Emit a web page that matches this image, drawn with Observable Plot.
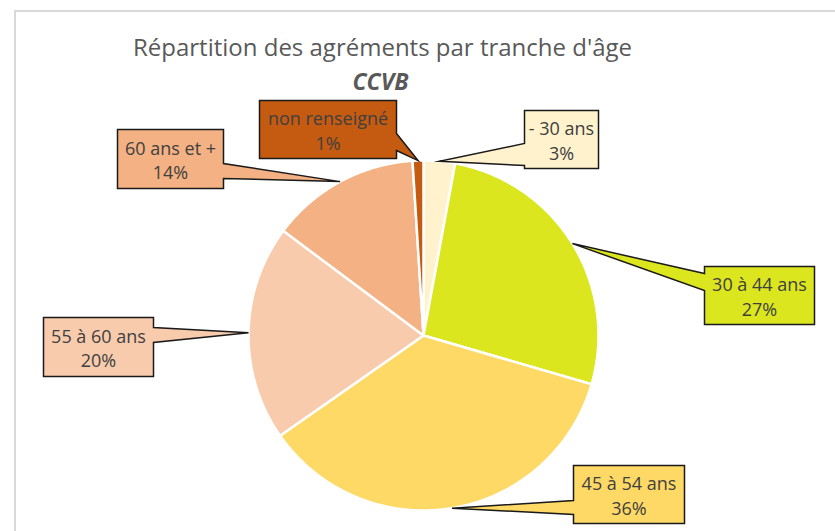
<!DOCTYPE html>
<html>
<head>
<meta charset="utf-8">
<script src="https://cdn.jsdelivr.net/npm/d3@7"></script>
<script src="https://cdn.jsdelivr.net/npm/@observablehq/plot@0.6"></script>
<style>
  html, body { margin: 0; padding: 0; background: #ffffff; width: 835px; height: 531px; overflow: hidden; }
  #frame { position: absolute; left: 14px; top: 10px; width: 2000px; height: 2000px;
           border-left: 2px solid #d9d9d9; border-top: 2px solid #d9d9d9; box-sizing: border-box; }
  .t { position: absolute; left: 0; text-align: center; font-family: "Open Sans", sans-serif; color: #595959; white-space: nowrap; }
  #title { top: 35px; width: 765px; font-size: 24px; line-height: 24px; }
  #subtitle { top: 70px; width: 761px; font-size: 23px; line-height: 23px; font-weight: bold; font-style: italic; }
  #chart { position: absolute; left: 0; top: 95px; }
</style>
</head>
<body>
<div id="frame"></div>
<div id="title" class="t">Répartition des agréments par tranche d'âge</div>
<div id="subtitle" class="t">CCVB</div>
<div id="chart"></div>
<script>
// ---- data ----
const categories = ["- 30 ans", "30 à 44 ans", "45 à 54 ans", "55 à 60 ans", "60 ans et +", "non renseigné"];
const shares = [2.9, 26.6, 35.8, 19.9, 13.8, 1.0];   // percent
const colors = ["#FFF2CC", "#DCE61F", "#FFD966", "#F8CBAD", "#F4B183", "#C55A11"];

// ---- layout (page pixels) ----
const W = 835, H = 436, TOP = 95;           // svg size and its top offset on the page
const CX = 423, CY = 335, R = 175;          // pie centre & radius on the page
// callout boxes (manually placed, as in the source chart) and the edge that carries the pointer
const labelBoxes = [
  {x0: 524, y0: 110, x1: 598, y1: 168, side: "left",  t0: 143, t1: 165},
  {x0: 704, y0: 266, x1: 814, y1: 324, side: "left",  t0: 273, t1: 290},
  {x0: 573, y0: 465, x1: 684, y1: 523, side: "left",  t0: 500, t1: 514},
  {x0: 43,  y0: 317, x1: 153, y1: 376, side: "right", t0: 327, t1: 342},
  {x0: 117, y0: 129, x1: 223, y1: 188, side: "right", t0: 163, t1: 178},
  {x0: 259, y0: 100, x1: 396, y1: 158, side: "right", t0: 133, t1: 150}
];

// page px -> pie units (radius = 1, y up)
const ux = px => (px - CX) / R;
const uy = py => (CY - py) / R;

// ---- pie geometry through d3.pie ----
const arcs = d3.pie().sort(null).startAngle(0).endAngle(2 * Math.PI)(shares);

const slicePts = [];
arcs.forEach((a, i) => {
  const name = categories[i];
  slicePts.push({name, x: 0, y: 0});
  const n = Math.max(4, Math.ceil((a.endAngle - a.startAngle) / 0.01));
  for (let k = 0; k <= n; k++) {
    const t = a.startAngle + (a.endAngle - a.startAngle) * k / n;
    slicePts.push({name, x: Math.sin(t), y: Math.cos(t)});
  }
});

// callout shapes: box + pointer to the slice's mid-angle on the rim
const calloutPts = [];
const labelData = [];
arcs.forEach((a, i) => {
  const name = categories[i];
  const b = labelBoxes[i];
  const mid = (a.startAngle + a.endAngle) / 2;
  const tip = [Math.sin(mid), Math.cos(mid)];
  const P = (px, py) => calloutPts.push({name, x: ux(px), y: uy(py)});
  const T = () => calloutPts.push({name, x: tip[0], y: tip[1]});
  P(b.x0, b.y0);
  if (b.side === "top") { P(b.t0, b.y0); T(); P(b.t1, b.y0); }
  P(b.x1, b.y0);
  if (b.side === "right") { P(b.x1, b.t0); T(); P(b.x1, b.t1); }
  P(b.x1, b.y1);
  if (b.side === "bottom") { P(b.t1, b.y1); T(); P(b.t0, b.y1); }
  P(b.x0, b.y1);
  if (b.side === "left") { P(b.x0, b.t1); T(); P(b.x0, b.t0); }
  labelData.push({
    name,
    x: ux((b.x0 + b.x1) / 2),
    y: uy((b.y0 + b.y1) / 2),
    text: name + "\n" + Math.round(shares[i]) + "%"
  });
});

const chart = Plot.plot({
  width: W,
  height: H,
  margin: 0,
  style: {background: "transparent", overflow: "visible"},
  x: {domain: [ux(0), ux(W)], range: [0, W], axis: null},
  y: {domain: [uy(TOP + H), uy(TOP)], range: [H, 0], axis: null},
  color: {domain: categories, range: colors},
  marks: [
    Plot.line(slicePts, {x: "x", y: "y", z: "name", fill: "name", stroke: "#ffffff", strokeWidth: 2.5, curve: "linear-closed"}),
    Plot.line(calloutPts, {x: "x", y: "y", z: "name", fill: "name", stroke: "#1a1a1a", strokeWidth: 1.5, curve: "linear-closed", strokeLinejoin: "miter", strokeMiterlimit: 10}),
    Plot.text(labelData, {x: "x", y: "y", text: "text", fontSize: 18, lineHeight: 1.36, fontFamily: "Open Sans", fill: "#404040"})
  ]
});
document.getElementById("chart").appendChild(chart);
</script>
</body>
</html>
